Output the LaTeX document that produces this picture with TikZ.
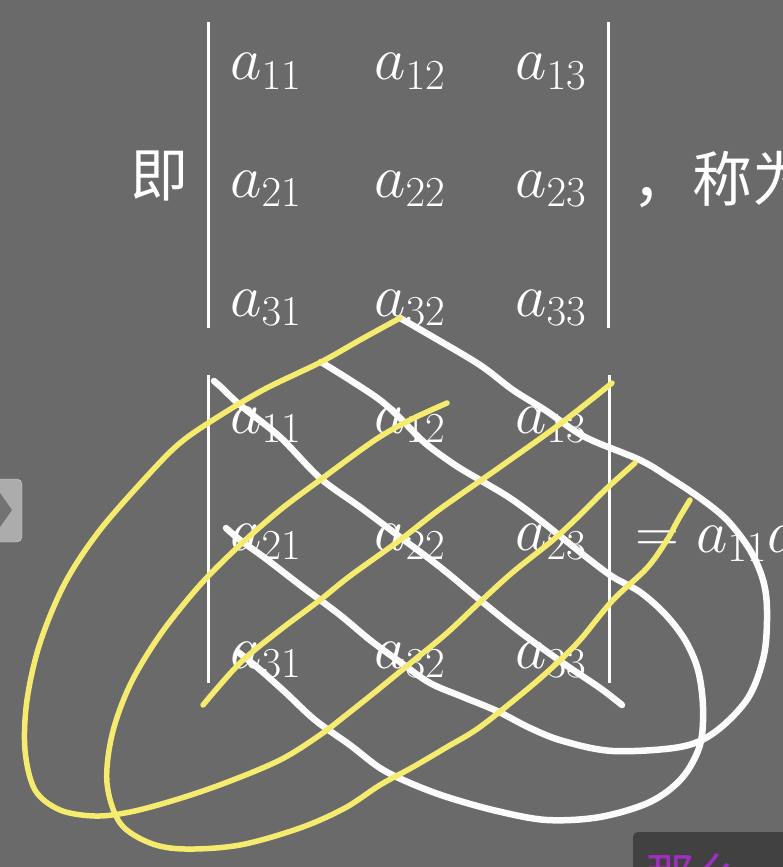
\RequirePackage{fix-cm}
\documentclass[tikz,border=0pt]{standalone}
\usepackage{fontspec}
\newfontfamily\cjk{Noto Sans CJK SC}
\usepackage{tikz}
\usetikzlibrary{positioning}
\definecolor{board}{HTML}{6A6A6A}
\definecolor{penwhite}{HTML}{FBFBFB}
\definecolor{penyellow}{HTML}{F5EB6E}
\definecolor{boxdark}{HTML}{414141}
\definecolor{subpurple}{HTML}{A02EC0}
\tikzset{
  ent/.style     ={anchor=base west, inner sep=0pt, text=white,
                   font=\fontsize{61}{72}\selectfont},
  hanzi/.style   ={inner sep=0pt, text=white,
                   font=\cjk\fontsize{58}{64}\selectfont},
  bar/.style     ={white, line width=3pt},
  wstroke/.style ={draw=penwhite, line width=6.5pt, line cap=round, line join=round},
  ystroke/.style ={draw=penyellow, line width=5.5pt, line cap=round, line join=round}
}
\begin{document}
\begin{tikzpicture}[x=1pt, y=-1pt]
\fill[board] (0,0) rectangle (783,867);
\useasboundingbox (0,0) rectangle (783,867);
\clip (0,0) rectangle (783,867);

%  Top determinant 
\node[hanzi] (ji) at (159,176) {即};
\foreach \r/\yb in {1/80, 2/197, 3/316}
  \foreach \c/\xl in {1/230, 2/374, 3/515}
    \node[ent] (t\r\c) at (\xl,\yb) {$a_{\r\c}$};
\draw[bar] (208,22) -- (208,328);
\draw[bar] (608,22) -- (608,328);
\node[hanzi, anchor=west, font=\cjk\fontsize{60}{64}\selectfont] (name) at (632,180) {，称为};

%  Bottom determinant 
\foreach \r/\yb in {1/433, 2/550, 3/668}
  \foreach \c/\xl in {1/230, 2/374, 3/515}
    \node[ent] (b\r\c) at (\xl,\yb) {$a_{\r\c}$};
\draw[bar] (208,375) -- (208,683);
\draw[bar] (609,375) -- (609,683);
\node[ent] (eq) at (635,552) {$=a_{11}a$};

%  White strokes 
\draw[wstroke] plot[smooth, tension=0.55] coordinates {
  (214,381) (222,388) (240,405) (280,437) (320,478) (360,507) (400,537)
  (440,567) (480,600) (520,632) (563,663) (600,688) (622,705)};
\draw[wstroke] plot[smooth, tension=0.55] coordinates {
  (321,362) (350,380) (380,400) (400,418) (425,443) (455,465) (480,480)
  (510,498) (540,520) (565,540) (590,560) (613,577) (640,592) (665,614)
  (685,640) (698,670) (703,707) (700,745) (682,778) (650,802) (600,817)
  (547,820) (497,811) (447,797) (410,783) (380,768) (350,745) (315,720)
  (285,692) (258,668) (238,652)};
\draw[wstroke] plot[smooth, tension=0.55] coordinates {
  (400,318) (433,337) (480,365) (513,390) (545,410) (585,437) (640,460)
  (670,478) (700,498) (727,520) (750,550) (763,580) (767,610) (764,655)
  (748,698) (715,732) (680,747) (613,751) (563,741) (530,728) (497,711)
  (463,697) (430,683) (400,662) (370,640) (340,615) (300,585) (265,558)
  (240,540) (226,528)};

%  Yellow strokes 
\draw[ystroke] plot[smooth, tension=0.55] coordinates {
  (612,383) (560,424) (500,467) (440,509) (400,540) (350,576) (320,600)
  (280,630) (240,663) (203,705)};
\draw[ystroke] plot[smooth, tension=0.55] coordinates {
  (400,318) (360,340) (321,362) (263,390) (213,420) (180,443) (150,473)
  (100,530) (65,583) (40,643) (27,700) (25,750) (35,790) (60,810)
  (95,816) (130,812) (175,800) (225,783) (280,760) (320,735) (350,712)
  (380,688) (413,661) (447,633) (480,602) (513,572) (553,540) (580,515)
  (605,490) (635,463)};
\draw[ystroke] plot[smooth, tension=0.55] coordinates {
  (447,403) (410,420) (375,440) (320,480) (280,510) (240,545) (200,585)
  (160,635) (130,685) (112,735) (107,783) (120,823) (150,843) (185,849)
  (240,845) (300,828) (345,808) (380,785) (413,767) (447,747) (480,727)
  (530,687) (557,663) (580,640) (613,600) (647,568) (667,540) (678,520)
  (690,500)};

%  Player controls 
\draw[draw=gray!40, fill=gray!65, rounded corners=5pt] (-10,479) rectangle (22,542);
\fill[gray!90!black] (0,493) -- (12,510) -- (0,527) -- cycle;

\fill[boxdark, rounded corners=5pt] (633,832) rectangle (800,900);
\node[inner sep=0pt, anchor=base west, text=subpurple,
      font=\cjk\fontsize{48}{52}\selectfont] (sub) at (646,893) {那么};
\end{tikzpicture}
\end{document}
